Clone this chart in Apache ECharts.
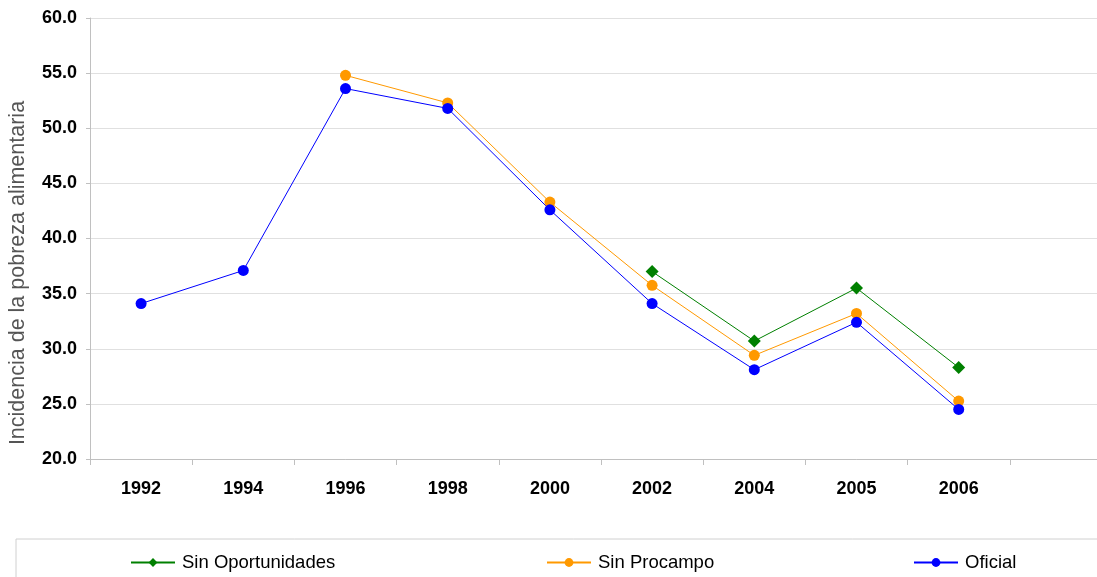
<!DOCTYPE html>
<html>
<head>
<meta charset="utf-8">
<script src="https://cdn.jsdelivr.net/npm/echarts@6/dist/echarts.min.js"></script>
<style>
html,body{margin:0;padding:0;background:#fff;overflow:hidden;}
#chart{width:1130px;height:577px;}
</style>
</head>
<body>
<div id="chart"></div>
<script>
const categories = ['1992','1994','1996','1998','2000','2002','2004','2005','2006',''];
const sinOportunidades = [null,null,null,null,null,37.0,30.7,35.5,28.3,null];
const sinProcampo = [null,null,54.8,52.3,43.3,35.75,29.4,33.2,25.25,null];
const oficial = [34.1,37.1,53.6,51.8,42.6,34.1,28.1,32.4,24.5,null];
const yTitle = 'Incidencia de la pobreza alimentaria';

const chart = echarts.init(document.getElementById('chart'));
const font = 'Arial, "Liberation Sans", sans-serif';
function legendAt(name, left){
  return {
    data:[name], left:left, top:553, padding:0, itemWidth:44, itemHeight:11, itemGap:4,
    textStyle:{fontFamily:font, fontSize:18.5, color:'#000', padding:[0,0,0,2]},
    inactiveColor:'#ccc'
  };
}
chart.setOption({
  animation:false,
  backgroundColor:'#fff',
  grid:{left:90, top:18, width:1022, height:441, containLabel:false},
  legend:[legendAt('Sin Oportunidades',130), legendAt('Sin Procampo',546), legendAt('Oficial',913)],
  graphic:[
    {type:'rect', shape:{x:16,y:539,width:1130,height:60}, style:{fill:'none', stroke:'#d0d0d0', lineWidth:1}, silent:true},
    {type:'text', x:18, y:273, rotation:Math.PI/2, silent:true,
      style:{text:yTitle, fontFamily:font, fontSize:21.5, fill:'#555', align:'center', verticalAlign:'middle'}}
  ],
  xAxis:{
    type:'category', data:categories, boundaryGap:true,
    axisLine:{lineStyle:{color:'#c0c0c0', width:1}},
    axisTick:{show:true, length:6, lineStyle:{color:'#c0c0c0'}},
    axisLabel:{fontFamily:font, fontSize:18, fontWeight:'bold', color:'#000', margin:21}
  },
  yAxis:{
    type:'value', min:20, max:60, interval:5,
    axisLine:{show:true, lineStyle:{color:'#c0c0c0'}},
    axisTick:{show:true, length:4, lineStyle:{color:'#c0c0c0'}},
    axisLabel:{fontFamily:font, fontSize:18, fontWeight:'bold', color:'#000', margin:13,
      formatter:v=>v.toFixed(1)},
    splitLine:{lineStyle:{color:'#e0e0e0', width:1}}
  },
  series:[
    {name:'Sin Oportunidades', type:'line', data:sinOportunidades, symbol:'diamond', symbolSize:13,
      itemStyle:{color:'#008000'}, lineStyle:{color:'#008000', width:1}, connectNulls:false},
    {name:'Sin Procampo', type:'line', data:sinProcampo, symbol:'circle', symbolSize:11,
      itemStyle:{color:'#ff9900'}, lineStyle:{color:'#ff9900', width:1}},
    {name:'Oficial', type:'line', data:oficial, symbol:'circle', symbolSize:11,
      itemStyle:{color:'#0000ff'}, lineStyle:{color:'#0000ff', width:1}}
  ]
});
</script>
</body>
</html>
